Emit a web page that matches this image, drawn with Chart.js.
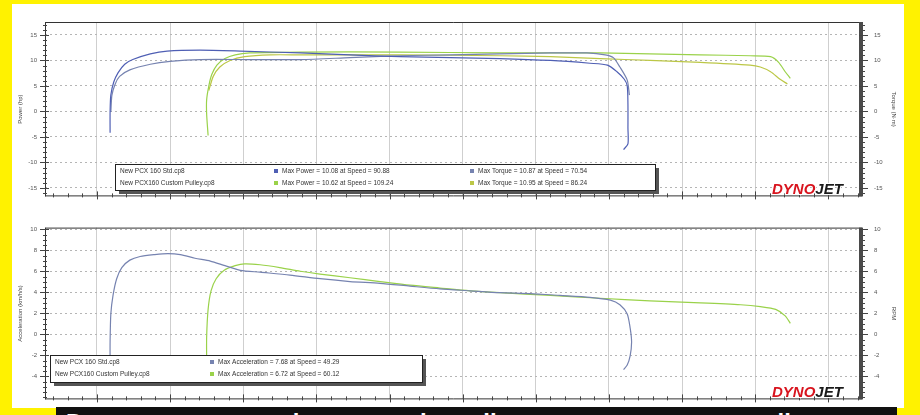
<!DOCTYPE html>
<html><head><meta charset="utf-8">
<script src="https://cdn.jsdelivr.net/npm/chart.js@4"></script>
<style>
html,body{margin:0;padding:0;width:920px;height:415px;overflow:hidden;background:#fff200;position:relative;}
#panel{position:absolute;left:12px;top:4px;width:892px;height:404px;background:#fff;}
#band{position:absolute;left:56px;top:407px;width:841px;height:8px;background:#111;overflow:hidden;}
#band span{position:absolute;left:10px;top:2px;color:#fff;font:bold 24px "Liberation Sans",Arial,sans-serif;white-space:nowrap;word-spacing:14px;}
#c1{position:absolute;left:0;top:0;}
#c2{position:absolute;left:0;top:212px;}
</style></head>
<body>
<div id="panel"></div>
<div id="band"><span>Dyno run comparison: stock pulley versus custom pulley on the new PCX 160</span></div>
<canvas id="c1" width="920" height="212"></canvas>
<canvas id="c2" width="920" height="203"></canvas>
<script>
// ---- tick labels ----
const speedTicks = [40, 50, 60, 70, 80, 90, 100, 110, 120, 130, 140];
const powerTicks = [15, 10, 5, 0, -5, -10, -15];
const torqueTicks = [15, 10, 5, 0, -5, -10, -15];
const accelTicks = [10, 8, 6, 4, 2, 0, -2, -4];
const accelRightTicks = [10, 8, 6, 4, 2, 0, -2, -4];

// ---- series names ----
const runNames = ["New PCX 160 Std.cp8", "New PCX160 Custom Pulley.cp8"];

// ---- Standard run: power (hp) ----
const stdPowerSpeed = [41.8, 41.8, 41.9, 42.3, 42.9, 43.8, 44.9, 47.3, 49.6, 54.1, 59.6, 67.8, 74.6, 81.4, 88.3, 95.1, 102.0, 107.4, 109.8, 111.1, 112.1, 112.5, 112.6, 112.6, 112.6, 112.0];
const stdPowerVal   = [-4.15, -0.11, 3.2, 5.77, 7.61, 9.26, 10.18, 11.29, 11.84, 12.02, 11.84, 11.47, 11.10, 10.74, 10.55, 10.37, 10.0, 9.45, 9.08, 7.79, 6.32, 5.04, 1.36, -3.24, -6.36, -7.46];
// ---- Standard run: torque ----
const stdTorqueSpeed = [41.9, 42.05, 42.5, 43.1, 44.5, 47.3, 50.0, 54.1, 60.9, 67.8, 74.6, 81.4, 88.3, 95.1, 102.0, 107.0, 109.5, 110.6, 111.5, 112.5, 112.8];
const stdTorqueVal   = [-0.11, 3.2, 5.40, 6.88, 8.16, 9.26, 9.82, 10.18, 10.18, 10.18, 10.55, 10.92, 11.10, 11.29, 11.47, 11.47, 11.10, 10.55, 8.71, 6.14, 3.2];
// ---- Custom pulley run: power ----
const cusPowerSpeed = [55.2, 55.0, 55.0, 55.3, 55.7, 56.4, 57.5, 58.9, 60.9, 67.8, 81.4, 95.1, 108.8, 115.6, 122.5, 129.3, 132.1, 133.2, 134.1, 134.8];
const cusPowerVal   = [-4.7, -0.48, 2.28, 5.04, 7.24, 9.08, 10.37, 11.10, 11.47, 11.65, 11.65, 11.47, 11.47, 11.29, 11.10, 10.92, 10.74, 9.63, 7.79, 6.51];
// ---- Custom pulley run: torque ----
const cusTorqueSpeed = [55.3, 55.9, 56.8, 58.2, 60.2, 63.7, 67.8, 81.4, 95.1, 102.0, 108.8, 115.6, 122.5, 129.3, 130.7, 132.1, 133.4, 134.4];
const cusTorqueVal   = [4.12, 6.88, 8.71, 10.0, 10.74, 11.10, 11.10, 11.10, 10.92, 10.74, 10.37, 10.0, 9.63, 9.08, 8.71, 7.79, 6.32, 5.40];

// ---- Acceleration ----
const stdAccSpeed = [41.8, 41.8, 41.9, 42.2, 42.7, 43.4, 44.5, 45.9, 47.9, 49.7, 51.4, 53.4, 55.5, 57.5, 59.6, 62.3, 66.4, 70.5, 74.6, 78.7, 82.8, 86.9, 91.0, 95.1, 99.2, 103.3, 107.4, 110.2, 111.5, 112.5, 112.9, 113.1, 112.9, 112.5, 112.0];
const stdAccVal   = [-2.65, -0.71, 1.95, 3.72, 5.31, 6.37, 7.08, 7.43, 7.61, 7.70, 7.61, 7.26, 6.99, 6.55, 6.11, 5.93, 5.66, 5.31, 5.04, 4.87, 4.60, 4.34, 4.16, 3.98, 3.89, 3.72, 3.54, 3.27, 2.83, 1.95, 0.62, -0.71, -2.04, -2.92, -3.36];
const cusAccSpeed = [55.0, 55.0, 55.2, 55.6, 56.3, 57.4, 58.9, 60.2, 62.3, 65.0, 67.8, 70.5, 74.6, 78.7, 82.8, 86.9, 91.0, 95.1, 102.0, 108.8, 115.6, 122.5, 128.0, 130.7, 132.8, 134.1, 134.8];
const cusAccVal   = [-2.65, -0.27, 2.39, 4.16, 5.31, 6.11, 6.55, 6.73, 6.64, 6.37, 6.02, 5.75, 5.40, 5.04, 4.69, 4.42, 4.16, 3.98, 3.72, 3.45, 3.19, 3.01, 2.83, 2.65, 2.39, 1.77, 1.06];

// ---- legend text ----
const topLegend = [
  [runNames[0], "Max Power = 10.08 at Speed = 90.88", "Max Torque = 10.87 at Speed = 70.54"],
  [runNames[1], "Max Power = 10.62 at Speed = 109.24", "Max Torque = 10.95 at Speed = 86.24"]
];
const botLegend = [
  [runNames[0], "Max Acceleration = 7.68 at Speed = 49.29"],
  [runNames[1], "Max Acceleration = 6.72 at Speed = 60.12"]
];

const BLUE = '#4f5fb4', BLUE2 = '#7683b0', GREEN = '#9ad24a', OLIVE = '#bcc746';
const pts = (xs, ys) => xs.map((x, i) => ({x, y: ys[i]}));
const FONT = '"Liberation Sans", Arial, sans-serif';

function ds(label, data, color, axis) {
  return {label, data, borderColor: color, borderWidth: 1.2, pointRadius: 0, showLine: true, tension: 0.25, fill: false, yAxisID: axis};
}

function decoPlugin(o) {
  return {
    id: 'deco',
    beforeDatasetsDraw(chart) {},
    afterDraw(chart) {
      const {ctx, chartArea: a} = chart;
      const ys = chart.scales.y, yr = chart.scales.y2, xs = chart.scales.x;
      ctx.save();
      // frame
      ctx.strokeStyle = '#333'; ctx.lineWidth = 1;
      ctx.beginPath();
      ctx.moveTo(a.left + 0.5, a.top + 0.5); ctx.lineTo(a.right, a.top + 0.5);
      ctx.moveTo(a.left + 0.5, a.top); ctx.lineTo(a.left + 0.5, a.bottom);
      ctx.moveTo(a.left, a.bottom - 0.5); ctx.lineTo(a.right, a.bottom - 0.5);
      ctx.stroke();
      ctx.fillStyle = '#4a4a4a';
      ctx.fillRect(a.right - 3, a.top, 4, a.bottom - a.top);
      // minor ticks left/right
      ctx.strokeStyle = '#444';
      ctx.beginPath();
      for (let v = Math.ceil(ys.min); v <= ys.max; v += o.minorStep) {
        const y = Math.round(ys.getPixelForValue(v)) + 0.5;
        ctx.moveTo(a.left - 2, y); ctx.lineTo(a.left + 2, y);
        ctx.moveTo(a.right + 1, y); ctx.lineTo(a.right + 3, y);
      }
      ys.ticks.forEach(t => {
        const y = Math.round(ys.getPixelForValue(t.value)) + 0.5;
        ctx.moveTo(a.left - 5, y); ctx.lineTo(a.left + 4, y);
        ctx.moveTo(a.right - 3, y); ctx.lineTo(a.right + 6, y);
      });
      for (let v = 34; v <= xs.max; v += 2) {
        const x = Math.round(xs.getPixelForValue(v)) + 0.5;
        ctx.moveTo(x, a.bottom - 3); ctx.lineTo(x, a.bottom + 1);
      }
      speedTicks.forEach(v => {
        const x = Math.round(xs.getPixelForValue(v)) + 0.5;
        ctx.moveTo(x, a.bottom - 5); ctx.lineTo(x, a.bottom + 3);
      });
      ctx.stroke();
      // axis titles
      ctx.fillStyle = '#444'; ctx.font = '6px ' + FONT; ctx.textAlign = 'center'; ctx.textBaseline = 'middle';
      const cy = (a.top + a.bottom) / 2;
      ctx.save(); ctx.translate(20, cy); ctx.rotate(-Math.PI / 2); ctx.fillText(o.leftTitle, 0, 0); ctx.restore();
      ctx.save(); ctx.translate(894, cy); ctx.rotate(Math.PI / 2); ctx.fillText(o.rightTitle, 0, 0); ctx.restore();
      // legend box
      const L = o.legend;
      ctx.fillStyle = '#555';
      ctx.fillRect(L.x + 4, L.y + 4, L.w, L.h);
      ctx.fillStyle = '#fff';
      ctx.fillRect(L.x, L.y, L.w, L.h);
      ctx.strokeStyle = '#222';
      ctx.strokeRect(L.x + 0.5, L.y + 0.5, L.w, L.h);
      ctx.font = '6.5px ' + FONT; ctx.textAlign = 'left'; ctx.textBaseline = 'middle';
      L.rows.forEach((row, i) => {
        const y = L.y + 7 + i * 12;
        ctx.fillStyle = '#333';
        ctx.fillText(row[0], L.x + 5, y);
        for (let c = 1; c < row.length; c++) {
          const x = L.cols[c - 1];
          ctx.fillStyle = L.colors[i][c - 1];
          ctx.fillRect(x, y - 2, 4, 4);
          ctx.fillStyle = '#333';
          ctx.fillText(row[c], x + 8, y);
        }
      });
      // logo
      ctx.font = 'italic bold 15px ' + FONT; ctx.textBaseline = 'alphabetic'; ctx.textAlign = 'left';
      const lx = a.right - 90, ly = a.bottom - 2;
      ctx.lineWidth = 2; ctx.strokeStyle = '#fff';
      ctx.strokeText('DYNO', lx, ly);
      ctx.fillStyle = '#d8141e'; ctx.fillText('DYNO', lx, ly);
      const w = ctx.measureText('DYNO').width;
      ctx.strokeText('JET', lx + w, ly);
      ctx.fillStyle = '#1a1a1a'; ctx.fillText('JET', lx + w, ly);
      ctx.restore();
    }
  };
}

function baseScales(yMin, yMax, leftTicks, rightTicks, xHeight) {
  return {
    x: {
      type: 'linear', min: 32.9, max: 144.6,
      afterBuildTicks: s => { s.ticks = speedTicks.map(v => ({value: v})); },
      afterFit: s => { s.height = xHeight; },
      ticks: {display: false},
      grid: {color: '#cfcfcf', lineWidth: 1, drawTicks: false},
      border: {display: false}
    },
    y: {
      type: 'linear', position: 'left', min: yMin, max: yMax,
      afterBuildTicks: s => { s.ticks = leftTicks.map(v => ({value: v})); },
      afterFit: s => { s.width = 45; },
      ticks: {font: {size: 6, family: FONT}, color: '#555', padding: 8},
      grid: {color: '#b5b5b5', lineWidth: 1, drawTicks: false},
      border: {display: false, dash: [2, 3]}
    },
    y2: {
      type: 'linear', position: 'right', min: yMin, max: yMax,
      afterBuildTicks: s => { s.ticks = rightTicks.map(v => ({value: v})); },
      afterFit: s => { s.width = 58; },
      ticks: {font: {size: 6, family: FONT}, color: '#555', padding: 12},
      grid: {display: false, drawTicks: false},
      border: {display: false}
    }
  };
}

new Chart(document.getElementById('c1'), {
  type: 'scatter',
  data: {datasets: [
    ds(runNames[0] + ' Power', pts(stdPowerSpeed, stdPowerVal), BLUE, 'y'),
    ds(runNames[0] + ' Torque', pts(stdTorqueSpeed, stdTorqueVal), BLUE2, 'y2'),
    ds(runNames[1] + ' Power', pts(cusPowerSpeed, cusPowerVal), GREEN, 'y'),
    ds(runNames[1] + ' Torque', pts(cusTorqueSpeed, cusTorqueVal), OLIVE, 'y2')
  ]},
  options: {
    responsive: false, animation: false, devicePixelRatio: 1,
    layout: {padding: {top: 22, bottom: 0, left: 0, right: 0}},
    plugins: {legend: {display: false}, tooltip: {enabled: false}},
    scales: baseScales(-16.65, 17.54, powerTicks, torqueTicks, 4)
  },
  plugins: [decoPlugin({
    minorStep: 1, leftTitle: 'Power (hp)', rightTitle: 'Torque (N·m)',
    legend: {x: 115, y: 164, w: 540, h: 26, rows: topLegend, cols: [274, 470],
      colors: [[BLUE, BLUE2], [GREEN, OLIVE]]}
  })]
});

new Chart(document.getElementById('c2'), {
  type: 'scatter',
  data: {datasets: [
    ds(runNames[0] + ' Acceleration', pts(stdAccSpeed, stdAccVal), BLUE2, 'y'),
    ds(runNames[1] + ' Acceleration', pts(cusAccSpeed, cusAccVal), GREEN, 'y')
  ]},
  options: {
    responsive: false, animation: false, devicePixelRatio: 1,
    layout: {padding: {top: 5, bottom: 0, left: 0, right: 0}},
    plugins: {legend: {display: false}, tooltip: {enabled: false}},
    scales: baseScales(-6.19, 10.18, accelTicks, accelRightTicks, 13)
  },
  plugins: [decoPlugin({
    minorStep: 0.5, leftTitle: 'Acceleration (km/h/s)', rightTitle: 'RPM',
    legend: {x: 50, y: 143, w: 372, h: 27, rows: botLegend, cols: [210],
      colors: [[BLUE2], [GREEN]]}
  })]
});
</script>
</body></html>
